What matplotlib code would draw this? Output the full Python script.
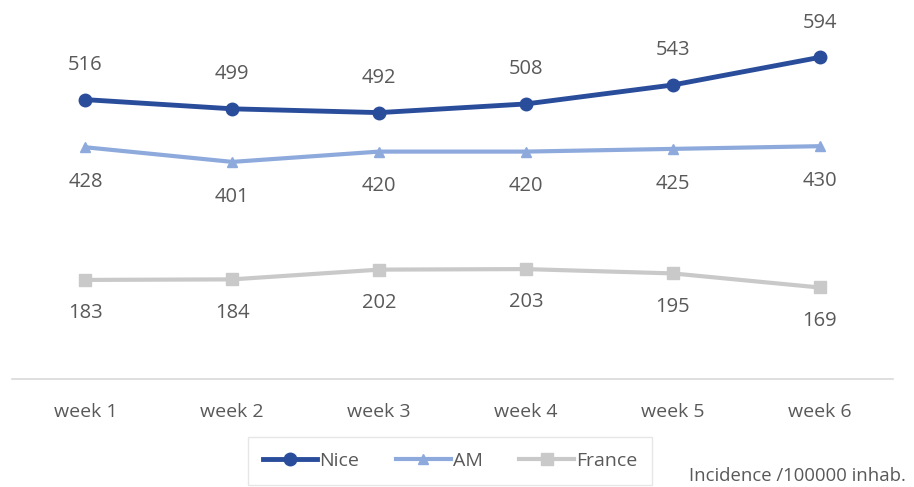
import matplotlib.pyplot as plt

plt.rcParams['font.family'] = ['Open Sans', 'DejaVu Sans']

weeks = ['week 1', 'week 2', 'week 3', 'week 4', 'week 5', 'week 6']
nice = [516, 499, 492, 508, 543, 594]
am = [428, 401, 420, 420, 425, 430]
france = [183, 184, 202, 203, 195, 169]

c_nice = '#2A4D9B'
c_am = '#8EAADC'
c_fr = '#C9C9C9'
txt = '#595959'

fig = plt.figure(figsize=(9.14, 4.87), dpi=100)
ax = fig.add_axes([12 / 914, 108 / 487, 881 / 914, 379 / 487])

x = list(range(len(weeks)))
ax.plot(x, nice, color=c_nice, lw=3.5, marker='o', ms=9, label='Nice')
ax.plot(x, am, color=c_am, lw=3, marker='^', ms=7, label='AM')
ax.plot(x, france, color=c_fr, lw=3, marker='s', ms=8, label='France')

for i in x:
    ax.annotate(str(nice[i]), (i, nice[i]), xytext=(0, 25), textcoords='offset points',
                ha='center', va='center', fontsize=14.5, color=txt)
    ax.annotate(str(am[i]), (i, am[i]), xytext=(0, -25), textcoords='offset points',
                ha='center', va='center', fontsize=14.5, color=txt)
    ax.annotate(str(france[i]), (i, france[i]), xytext=(0, -24), textcoords='offset points',
                ha='center', va='center', fontsize=14.5, color=txt)

ax.set_xlim(-0.5, 5.5)
ax.set_ylim(0, 700)
ax.set_xticks(x)
ax.set_xticklabels(weeks, fontsize=14, color=txt)
ax.tick_params(axis='x', length=0, pad=17)
ax.set_yticks([])
for s in ['top', 'left', 'right']:
    ax.spines[s].set_visible(False)
ax.spines['bottom'].set_color('#D9D9D9')
ax.spines['bottom'].set_linewidth(1.2)

leg = fig.legend(loc='center', bbox_to_anchor=(450 / 914, 1 - 461 / 487), ncol=3,
                 frameon=True, fontsize=14, handlelength=2.8, columnspacing=1.9,
                 handletextpad=0.1, borderpad=0.75, borderaxespad=0,
                 fancybox=False)
leg.get_frame().set_edgecolor('#E0E0E0')
for t in leg.get_texts():
    t.set_color(txt)

fig.text(906 / 914, 1 - 476 / 487, 'Incidence /100000 inhab.', ha='right', va='center',
         fontsize=13.3, color=txt)

fig.savefig('out.png', dpi=100)
